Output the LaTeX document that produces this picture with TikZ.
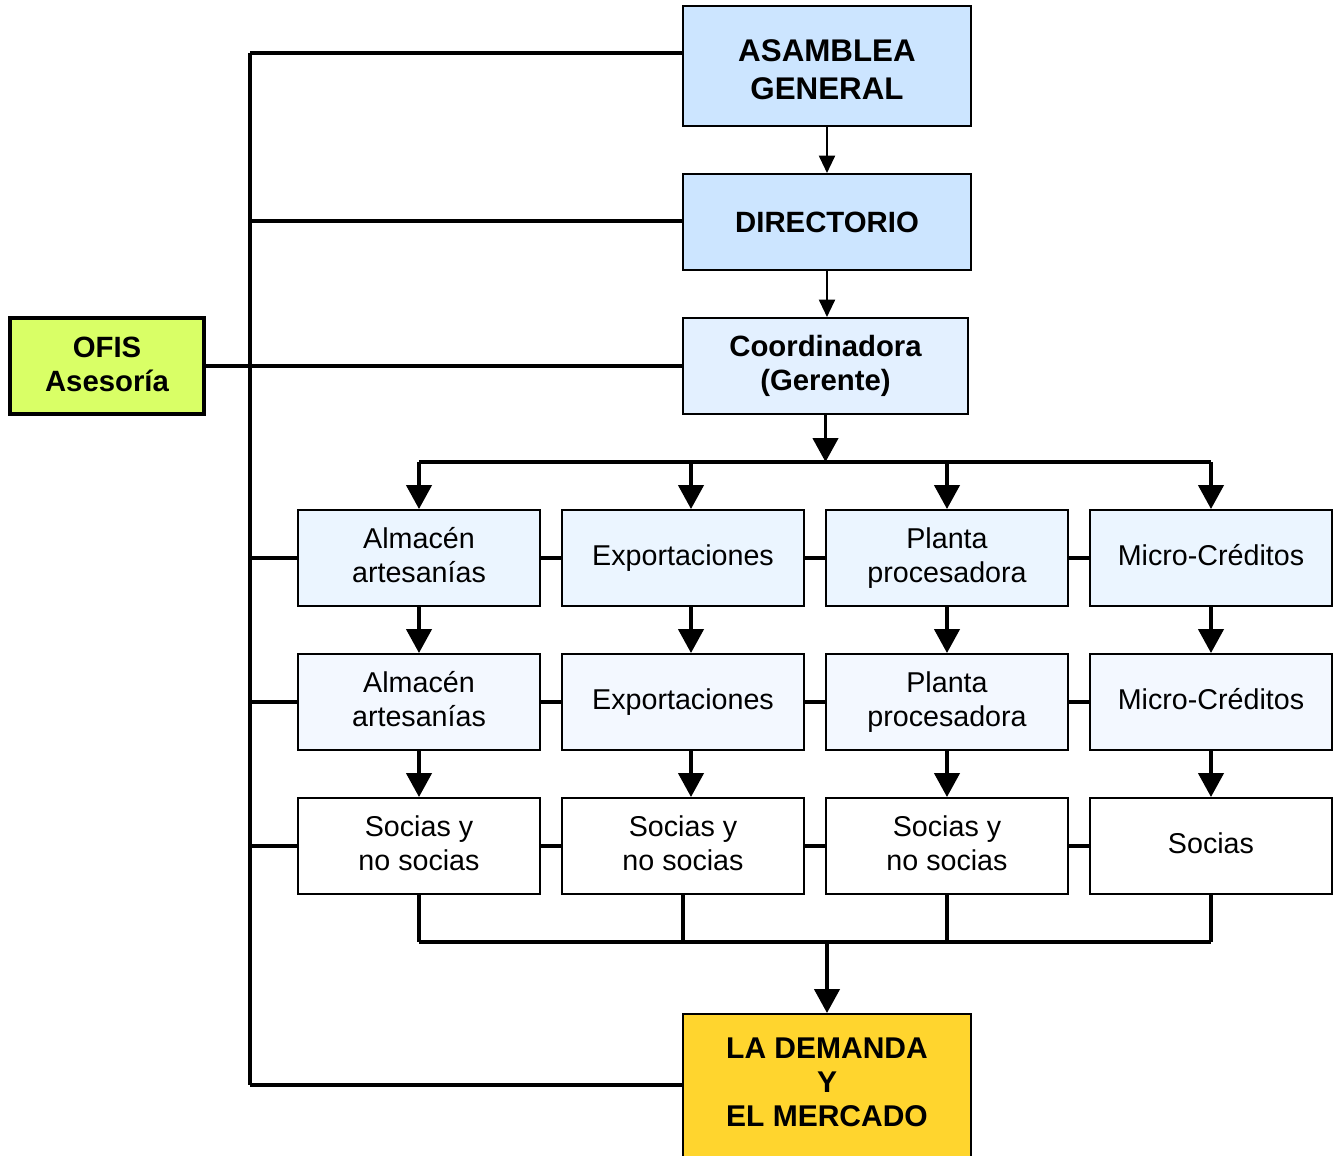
\documentclass[tikz,border=0pt]{standalone}
\usepackage{fontspec}
\setmainfont{Liberation Sans}
\usetikzlibrary{arrows.meta}
\definecolor{topblue}{HTML}{CCE5FF}
\definecolor{coordblue}{HTML}{E3F0FF}
\definecolor{rowone}{HTML}{EBF5FF}
\definecolor{rowtwo}{HTML}{F3F8FF}
\definecolor{ofisgreen}{HTML}{D9FF66}
\definecolor{demyellow}{HTML}{FFD52E}
\tikzset{
  box/.style={draw=black, line width=1.5pt, rectangle, inner sep=0pt, align=center},
  headbox/.style={box, font=\fontsize{22}{25.5}\selectfont\bfseries},
  rowbox/.style={box, minimum width=181.5pt, minimum height=72pt, font=\fontsize{21.5}{25.5}\selectfont},
  oneline/.style={text height=15.4pt, text depth=4.5pt},
  twoline/.style={text height=40.9pt, text depth=4.5pt},
  bus/.style={line width=2.6pt},
  bigarr/.style={line width=2.6pt, -{Triangle[width=19pt,length=18pt]}},
  smallarr/.style={line width=1.5pt, -{Triangle[width=12pt,length=13pt]}},
}
\begin{document}
\begin{tikzpicture}[x=0.75pt,y=-0.75pt]
\useasboundingbox (0,0) rectangle (1340,1156);
\fill[white] (0,0) rectangle (1340,1156);
% head boxes
\node[headbox, fill=topblue, minimum width=216pt, minimum height=90pt, text height=49.8pt, text depth=0pt,
      font=\fontsize{23.5}{28.5}\selectfont\bfseries] (asm) at (827,66) {ASAMBLEA\\GENERAL};
\node[headbox, fill=topblue, minimum width=216pt, minimum height=72pt] (dir) at (827,222) {DIRECTORIO};
\node[headbox, fill=coordblue, minimum width=213.75pt, minimum height=72pt] (coo) at (825.5,366) {Coordinadora\\(Gerente)};
\node[headbox, fill=ofisgreen, line width=3pt, minimum width=145.5pt, minimum height=72pt, text depth=3pt] (ofis) at (107,366) {OFIS\\Asesoría};
\node[headbox, fill=demyellow, minimum width=216pt, minimum height=112.5pt, text depth=10.5pt,
      font=\fontsize{22.5}{25.5}\selectfont\bfseries] (dem) at (827,1089) {LA DEMANDA\\Y\\EL MERCADO};
% row 1
\node[rowbox, twoline, fill=rowone] (a1) at (419,558) {Almacén\\artesanías};
\node[rowbox, oneline, fill=rowone] (e1) at (683,558) {Exportaciones};
\node[rowbox, twoline, fill=rowone] (p1) at (947,558) {Planta\\procesadora};
\node[rowbox, oneline, fill=rowone] (m1) at (1211,558) {Micro-Créditos};
% row 2
\node[rowbox, twoline, fill=rowtwo] (a2) at (419,702) {Almacén\\artesanías};
\node[rowbox, oneline, fill=rowtwo] (e2) at (683,702) {Exportaciones};
\node[rowbox, twoline, fill=rowtwo] (p2) at (947,702) {Planta\\procesadora};
\node[rowbox, oneline, fill=rowtwo] (m2) at (1211,702) {Micro-Créditos};
% row 3
\node[rowbox, twoline, fill=white] (a3) at (419,846) {Socias y\\no socias};
\node[rowbox, twoline, fill=white] (e3) at (683,846) {Socias y\\no socias};
\node[rowbox, twoline, fill=white] (p3) at (947,846) {Socias y\\no socias};
\node[rowbox, oneline, fill=white] (m3) at (1211,846) {Socias};
% coordinates
\coordinate (spT) at (250,53);
\coordinate (spB) at (250,1085);
\coordinate (busT) at (419,462);
\coordinate (busB) at (419,942);
\coordinate (spD) at (250,221);
% left spine
\draw[bus] (spT) -- (spB);
\draw[bus] (spT) -- (spT -| asm.west);
\draw[bus] (spD) -- (spD -| dir.west);
\draw[bus] (ofis.east) -- (coo.west);
\draw[bus] (spT |- a1.west) -- (a1.west);
\draw[bus] (spT |- a2.west) -- (a2.west);
\draw[bus] (spT |- a3.west) -- (a3.west);
\draw[bus] (spB) -- (spB -| dem.west);
% top arrows
\draw[smallarr] (asm.south) -- (dir.north);
\draw[smallarr] (dir.south) -- (dir.south |- coo.north);
% distribution bus
\draw[bigarr] (coo.south) -- (coo.south |- busT);
\draw[bus] (busT) -- (busT -| m1.north);
\draw[bigarr] (busT) -- (a1.north);
\draw[bigarr] ([xshift=6pt]e1.north |- busT) -- ([xshift=6pt]e1.north);
\draw[bigarr] (p1.north |- busT) -- (p1.north);
\draw[bigarr] (m1.north |- busT) -- (m1.north);
% row-to-row arrows
\draw[bigarr] (a1.south) -- (a2.north);
\draw[bigarr] ([xshift=6pt]e1.south) -- ([xshift=6pt]e2.north);
\draw[bigarr] (p1.south) -- (p2.north);
\draw[bigarr] (m1.south) -- (m2.north);
\draw[bigarr] (a2.south) -- (a3.north);
\draw[bigarr] ([xshift=6pt]e2.south) -- ([xshift=6pt]e3.north);
\draw[bigarr] (p2.south) -- (p3.north);
\draw[bigarr] (m2.south) -- (m3.north);
% horizontal links within rows
\foreach \r in {1,2,3}{
  \draw[bus] (a\r.east) -- (e\r.west);
  \draw[bus] (e\r.east) -- (p\r.west);
  \draw[bus] (p\r.east) -- (m\r.west);
}
% collection bus
\draw[bus] (a3.south) -- (busB);
\draw[bus] (e3.south) -- (e3.south |- busB);
\draw[bus] (p3.south) -- (p3.south |- busB);
\draw[bus] (m3.south) -- (m3.south |- busB);
\draw[bus] (busB) -- (busB -| m3.south);
\draw[bigarr] (busB -| dem.north) -- (dem.north);
\end{tikzpicture}
\end{document}
